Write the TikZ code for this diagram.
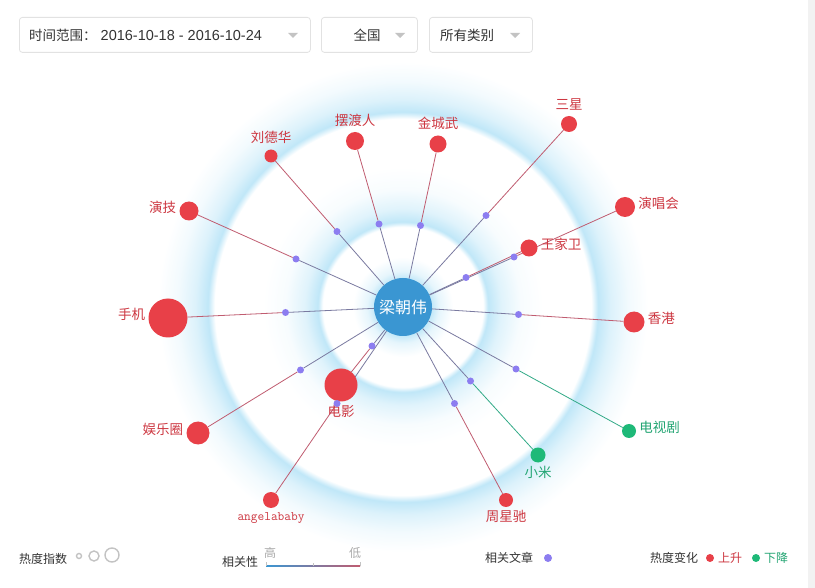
\documentclass[tikz,border=0pt]{standalone}
\usepackage{fontspec}
\setmainfont{Noto Sans CJK SC}
\newfontfamily\datefont{Liberation Sans}
\usepackage{xcolor}
\usetikzlibrary{positioning}
\definecolor{hotred}{RGB}{232,64,72}
\definecolor{hotredtxt}{RGB}{205,55,65}
\definecolor{coolgreen}{RGB}{30,185,120}
\definecolor{coolgreentxt}{RGB}{35,165,115}
\definecolor{hubblue}{RGB}{58,150,210}
\definecolor{halo}{RGB}{192,231,248}
\definecolor{artpurple}{RGB}{140,125,240}
\definecolor{linenear}{RGB}{122,122,160}
\definecolor{linered}{RGB}{192,92,112}
\definecolor{linegreen}{RGB}{50,170,135}
\definecolor{boxline}{RGB}{226,226,226}
\definecolor{caretgray}{RGB}{195,195,195}
\definecolor{hintgray}{RGB}{170,170,170}
\definecolor{txtdark}{RGB}{51,51,51}
\definecolor{sidegray}{RGB}{242,242,242}

\pgfdeclareradialshading{haloout}{\pgfpointorigin}{color(0bp)=(white); color(19.2bp)=(white); color(19.9bp)=(halo); color(21.2bp)=(halo!55!white); color(23bp)=(halo!20!white); color(25bp)=(white); color(50bp)=(white)}
\pgfdeclareradialshading{haloin}{\pgfpointorigin}{color(0bp)=(white); color(14.3bp)=(white); color(15.2bp)=(halo); color(17.5bp)=(halo!50!white); color(21bp)=(halo!12!white); color(25bp)=(white); color(50bp)=(white)}
\pgfdeclareradialshading{halohub}{\pgfpointorigin}{color(0bp)=(halo); color(14bp)=(halo); color(18bp)=(halo!40!white); color(25bp)=(white); color(50bp)=(white)}

\pgfdeclarelayer{halo}
\pgfdeclarelayer{wire}
\pgfsetlayers{halo,wire,main}

\begin{document}
\begin{tikzpicture}[x=1pt, y=-1pt,
    hot/.style={circle, fill=hotred, inner sep=0pt},
    cool/.style={circle, fill=coolgreen, inner sep=0pt},
    hotlbl/.style={inner sep=0pt, text=hotredtxt, font=\fontsize{13.5}{16}\selectfont},
    coollbl/.style={hotlbl, text=coolgreentxt},
    art/.style={circle, fill=artpurple, inner sep=0pt, minimum size=7pt},
    lnk/.style={draw=linenear, line width=0.8pt},
    tored/.style={draw=linered, line width=0.8pt},
    togreen/.style={draw=linegreen, line width=0.8pt},
    selbox/.style={rectangle, draw=boxline, fill=white, rounded corners=3pt,
        minimum height=35pt, line width=0.8pt, anchor=north west},
    seltxt/.style={inner sep=0pt, text=txtdark, font=\fontsize{13.5}{16}\selectfont},
    legtxt/.style={inner sep=0pt, anchor=west, text=txtdark, font=\fontsize{12}{14}\selectfont},
    ring/.style={circle, draw=caretgray, line width=1.4pt, fill=white, inner sep=0pt},
    legdot/.style={circle, inner sep=0pt, minimum size=8pt}
]
\useasboundingbox (0,0) rectangle (815,588);

% halo behind the graph
\begin{pgfonlayer}{halo}
\fill[white] (0,0) rectangle (815,588);
\fill[sidegray] (808,0) rectangle (815,588);
\shade[shading=haloout] (403,307) circle[radius=245pt];
\shade[shading=haloin] (403,307) circle[radius=140pt];
\shade[shading=halohub] (403,307) circle[radius=50pt];
\end{pgfonlayer}

% selectors
\node[selbox, minimum width=291pt] (range) at (19,17) {};
\node[seltxt, anchor=west] (rangetxt) at (29,35) {时间范围：\hspace{4pt}{\datefont\fontsize{14.5}{16}\selectfont 2016-10-18 - 2016-10-24}};
\fill[caretgray] (288,33) -- (298,33) -- (293,38) -- cycle;
\node[selbox, minimum width=96pt] (area) at (321,17) {};
\node[seltxt] (areatxt) at (367,35) {全国};
\fill[caretgray] (395,33) -- (405,33) -- (400,38) -- cycle;
\node[selbox, minimum width=103pt] (kind) at (429,17) {};
\node[seltxt, anchor=west] (kindtxt) at (440,35) {所有类别};
\fill[caretgray] (510,33) -- (520,33) -- (515,38) -- cycle;

\node[circle, fill=hubblue, minimum size=58pt, inner sep=0pt, text=white,
    font=\fontsize{16}{18}\selectfont] (hub) at (403,307) {梁朝伟};

\node[hot, minimum size=16pt] (sx) at (569,124) {};
\node[hotlbl, above=5pt of sx] (sxl) {三星};
\node[hot, minimum size=20pt] (ych) at (625,207) {};
\node[hotlbl, right=3pt of ych, yshift=4pt] (ychl) {演唱会};
\node[hot, minimum size=17pt] (wjw) at (529,248) {};
\node[hotlbl, right=3pt of wjw, yshift=4pt] (wjwl) {王家卫};
\node[hot, minimum size=21pt] (hk) at (634,322) {};
\node[hotlbl, right=3pt of hk, yshift=4pt] (hkl) {香港};
\node[cool, minimum size=14pt] (tv) at (629,431) {};
\node[coollbl, right=3pt of tv, yshift=4pt] (tvl) {电视剧};
\node[cool, minimum size=15pt] (xm) at (538,455) {};
\node[coollbl, below=3pt of xm] (xml) {小米};
\node[hot, minimum size=14pt] (zxc) at (506,500) {};
\node[hotlbl, below=3pt of zxc] (zxcl) {周星驰};
\node[hot, minimum size=33pt] (dy) at (341,385) {};
\node[hotlbl, below=3pt of dy] (dyl) {电影};
\node[hot, minimum size=16pt] (ab) at (271,500) {};
\node[hotlbl, below=4pt of ab, font=\ttfamily\fontsize{13}{15}\selectfont] (abl) {angelababy};
\node[hot, minimum size=23pt] (ylq) at (198,433) {};
\node[hotlbl, left=3pt of ylq, yshift=4pt] (ylql) {娱乐圈};
\node[hot, minimum size=39pt] (sj) at (168,318) {};
\node[hotlbl, left=3pt of sj, yshift=4pt] (sjl) {手机};
\node[hot, minimum size=19pt] (yj) at (189,211) {};
\node[hotlbl, left=3pt of yj, yshift=4pt] (yjl) {演技};
\node[hot, minimum size=13pt] (ldh) at (271,156) {};
\node[hotlbl, above=6pt of ldh] (ldhl) {刘德华};
\node[hot, minimum size=18pt] (bdr) at (355,141) {};
\node[hotlbl, above=5pt of bdr] (bdrl) {摆渡人};
\node[hot, minimum size=17pt] (jcw) at (438,144) {};
\node[hotlbl, above=5pt of jcw] (jcwl) {金城武};

% article dots halfway between centres
\path (hub.center) -- node[art] (msx) {} (sx.center);
\path (hub.center) -- node[art] (mych) {} (ych.center);
\path (hub.center) -- node[art] (mwjw) {} (wjw.center);
\path (hub.center) -- node[art] (mhk) {} (hk.center);
\path (hub.center) -- node[art] (mtv) {} (tv.center);
\path (hub.center) -- node[art] (mxm) {} (xm.center);
\path (hub.center) -- node[art] (mzxc) {} (zxc.center);
\path (hub.center) -- node[art] (mdy) {} (dy.center);
\path (hub.center) -- node[art] (mab) {} (ab.center);
\path (hub.center) -- node[art] (mylq) {} (ylq.center);
\path (hub.center) -- node[art] (msj) {} (sj.center);
\path (hub.center) -- node[art] (myj) {} (yj.center);
\path (hub.center) -- node[art] (mldh) {} (ldh.center);
\path (hub.center) -- node[art] (mbdr) {} (bdr.center);
\path (hub.center) -- node[art] (mjcw) {} (jcw.center);

\begin{pgfonlayer}{wire}
\draw[lnk] (hub) -- (msx);  \draw[tored] (msx) -- (sx);
\draw[lnk] (hub) -- (mych); \draw[tored] (mych) -- (ych);
\draw[lnk] (hub) -- (mwjw); \draw[tored] (mwjw) -- (wjw);
\draw[lnk] (hub) -- (mhk);  \draw[tored] (mhk) -- (hk);
\draw[lnk] (hub) -- (mtv);  \draw[togreen] (mtv) -- (tv);
\draw[lnk] (hub) -- (mxm);  \draw[togreen] (mxm) -- (xm);
\draw[lnk] (hub) -- (mzxc); \draw[tored] (mzxc) -- (zxc);
\draw[lnk] (hub) -- (mdy);  \draw[tored] (mdy) -- (dy);
\draw[lnk] (hub) -- (mab);  \draw[tored] (mab) -- (ab);
\draw[lnk] (hub) -- (mylq); \draw[tored] (mylq) -- (ylq);
\draw[lnk] (hub) -- (msj);  \draw[tored] (msj) -- (sj);
\draw[lnk] (hub) -- (myj);  \draw[tored] (myj) -- (yj);
\draw[lnk] (hub) -- (mldh); \draw[tored] (mldh) -- (ldh);
\draw[lnk] (hub) -- (mbdr); \draw[tored] (mbdr) -- (bdr);
\draw[lnk] (hub) -- (mjcw); \draw[tored] (mjcw) -- (jcw);
\end{pgfonlayer}

% legend
\node[legtxt] (heat) at (19,559) {热度指数};
\node[ring, minimum size=5pt] (rsm) at (79,556) {};
\node[ring, minimum size=10pt] (rmd) at (94,556) {};
\node[ring, minimum size=14pt] (rlg) at (112,555) {};
\node[legtxt] (rel) at (222,562) {相关性};
\node[inner sep=0pt, text=hintgray, font=\fontsize{12}{14}\selectfont] (relhi) at (270,553) {高};
\node[inner sep=0pt, text=hintgray, font=\fontsize{12}{14}\selectfont] (rello) at (355,553) {低};
\shade[left color=hubblue, right color=linered] (266,565.4) rectangle (360,566.8);
\draw[caretgray, line width=0.6pt] (266,566) -- (266,562) (313,566) -- (313,563) (360,566) -- (360,562);
\node[legtxt] (arts) at (485,558) {相关文章};
\node[legdot, fill=artpurple] (artsd) at (548,558) {};
\node[legtxt] (trend) at (650,558) {热度变化};
\node[legdot, fill=hotred] (upd) at (710,558) {};
\node[legtxt, text=hotredtxt] (up) at (718,558) {上升};
\node[legdot, fill=coolgreen] (downd) at (756,558) {};
\node[legtxt, text=coolgreentxt] (down) at (764,558) {下降};
\end{tikzpicture}
\end{document}
